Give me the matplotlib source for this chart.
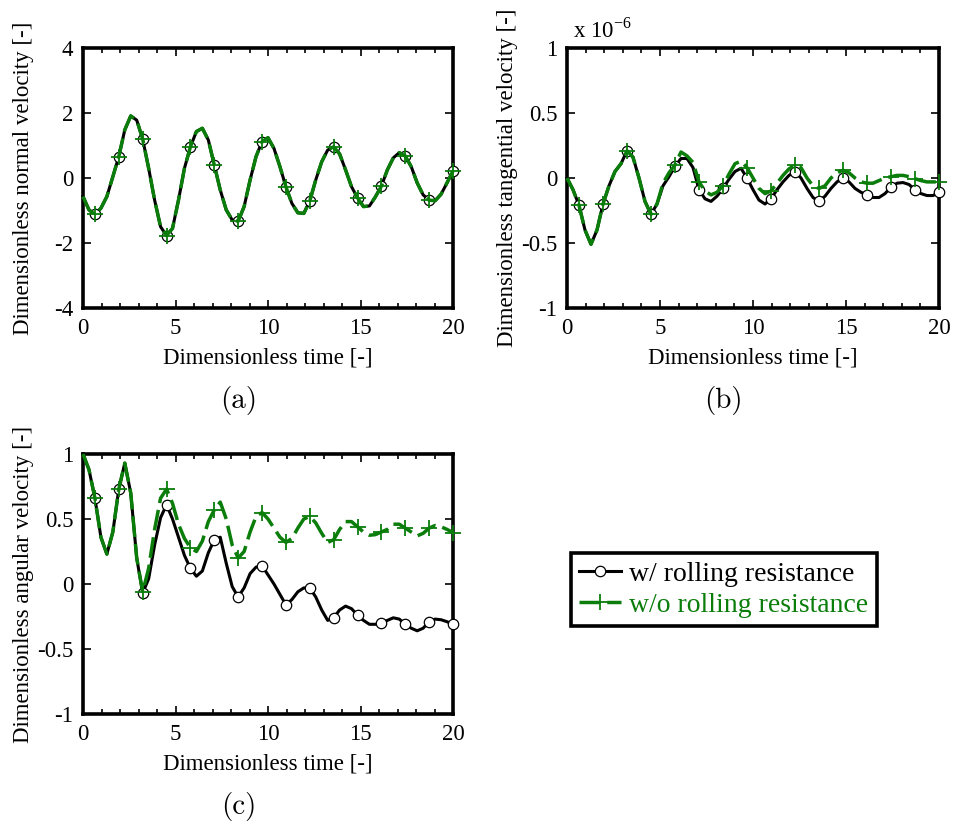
import numpy as np
import matplotlib
matplotlib.use('Agg')
import matplotlib.pyplot as plt
from matplotlib.ticker import MultipleLocator, FuncFormatter
from matplotlib.lines import Line2D

plt.rcParams['font.family'] = ['Liberation Serif', 'DejaVu Serif']
plt.rcParams['axes.unicode_minus'] = False
plt.rcParams['mathtext.fontset'] = 'custom'
plt.rcParams['mathtext.rm'] = 'Liberation Serif'

# sample times (63 samples over 0..20), markers every 4th sample from index 2
time = np.linspace(0, 20, 63)

# (a) normal velocity, both cases coincide
normal_vel = [-0.57, -0.98, -1.12, -0.93, -0.57, 0.04, 0.66, 1.48, 1.91, 1.78,
              1.20, 0.30, -0.68, -1.50, -1.77, -1.55, -0.68, 0.30, 0.96, 1.43,
              1.53, 1.17, 0.40, -0.37, -0.98, -1.29, -1.33, -0.88, -0.06, 0.66,
              1.12, 1.24, 0.91, 0.35, -0.27, -0.78, -1.07, -1.09, -0.71, -0.06,
              0.50, 0.86, 0.96, 0.74, 0.25, -0.27, -0.61, -0.88, -0.86, -0.58,
              -0.25, 0.25, 0.62, 0.78, 0.68, 0.35, -0.15, -0.52, -0.68, -0.70,
              -0.50, -0.15, 0.22]

# (b) tangential velocity, in units of 1e-6
tang_with = [0.0, -0.09, -0.21, -0.40, -0.51, -0.40, -0.20, -0.06, 0.05, 0.11,
             0.21, 0.16, 0.0, -0.18, -0.28, -0.20, -0.06, 0.01, 0.09, 0.15,
             0.15, 0.08, -0.09, -0.16, -0.18, -0.14, -0.08, -0.01, 0.05, 0.075,
             0.0, -0.09, -0.17, -0.20, -0.16, -0.09, -0.03, 0.02, 0.05, 0.0,
             -0.08, -0.15, -0.18, -0.14, -0.08, -0.03, 0.0, -0.03, -0.08, -0.11,
             -0.13, -0.15, -0.15, -0.12, -0.07, -0.04, -0.035, -0.05, -0.09, -0.12,
             -0.135, -0.135, -0.11]
tang_without = [0.0, -0.09, -0.21, -0.40, -0.51, -0.40, -0.20, -0.06, 0.05, 0.11,
                0.21, 0.16, 0.0, -0.18, -0.28, -0.20, -0.04, 0.04, 0.10, 0.20,
                0.17, 0.12, -0.03, -0.10, -0.13, -0.11, -0.06, 0.03, 0.11, 0.13,
                0.08, 0.0, -0.08, -0.12, -0.10, -0.04, 0.02, 0.07, 0.10, 0.08,
                0.0, -0.06, -0.08, -0.06, 0.0, 0.04, 0.06, 0.04, 0.0, -0.03,
                -0.04, -0.04, -0.02, 0.0, 0.01, 0.02, 0.02, 0.01, -0.005, -0.02,
                -0.03, -0.03, -0.03]

# (c) angular velocity
ang_with = [1.0, 0.88, 0.66, 0.36, 0.23, 0.40, 0.73, 0.93, 0.70, 0.20,
            -0.07, 0.04, 0.30, 0.51, 0.61, 0.50, 0.36, 0.22, 0.12, 0.06,
            0.10, 0.24, 0.34, 0.36, 0.16, -0.02, -0.10, -0.03, 0.08, 0.13,
            0.14, 0.07, 0.0, -0.08, -0.16, -0.12, -0.06, -0.03, -0.03, -0.10,
            -0.20, -0.28, -0.26, -0.20, -0.17, -0.19, -0.24, -0.28, -0.31, -0.31,
            -0.30, -0.28, -0.26, -0.27, -0.31, -0.34, -0.36, -0.34, -0.29, -0.27,
            -0.275, -0.29, -0.31]
ang_without = [1.0, 0.88, 0.66, 0.36, 0.23, 0.40, 0.73, 0.93, 0.70, 0.20,
               -0.06, 0.12, 0.42, 0.66, 0.73, 0.62, 0.46, 0.35, 0.28, 0.25,
               0.33, 0.48, 0.57, 0.63, 0.50, 0.30, 0.20, 0.25, 0.40, 0.52,
               0.55, 0.50, 0.43, 0.36, 0.32, 0.35, 0.43, 0.50, 0.52, 0.47,
               0.39, 0.32, 0.34, 0.42, 0.48, 0.48, 0.44, 0.40, 0.375, 0.38,
               0.40, 0.42, 0.46, 0.46, 0.43, 0.40, 0.37, 0.39, 0.43, 0.45,
               0.44, 0.42, 0.395]

labels = ['w/ rolling resistance', 'w/o rolling resistance']
green = '#0a7d0a'
fs = 16.5

W, H = 956, 830
fig = plt.figure(figsize=(W / 100, H / 100), dpi=100)
ax_a = fig.add_axes([83 / W, 1 - 308 / H, 370 / W, 260 / H])
ax_b = fig.add_axes([567 / W, 1 - 308 / H, 372 / W, 260 / H])
ax_c = fig.add_axes([83 / W, 1 - 714 / H, 370 / W, 260 / H])

black_kw = dict(color='black', lw=2.2, marker='o', ms=7.5, mfc='white', mec='black',
                mew=0.9, markevery=(2, 4), clip_on=False, zorder=3)
green_kw = dict(color=green, lw=2.5, dashes=(6, 2), marker='+', ms=11, mew=1.3,
                markevery=(2, 4), clip_on=False, zorder=4)


def style(ax, ylim, ystep, ylabel, tag):
    ax.set_xlim(0, 20)
    ax.set_ylim(*ylim)
    ax.xaxis.set_major_locator(MultipleLocator(5))
    ax.xaxis.set_minor_locator(MultipleLocator(1))
    ax.yaxis.set_major_locator(MultipleLocator(ystep))
    ax.yaxis.set_major_formatter(FuncFormatter(lambda v, p: '%g' % v))
    ax.tick_params(which='both', direction='in', top=True, right=True,
                   labelsize=fs, width=1.2)
    ax.tick_params(which='major', length=6, pad=7)
    ax.tick_params(which='minor', length=3.5)
    for sp in ax.spines.values():
        sp.set_linewidth(2.6)
    ax.set_xlabel('Dimensionless time [-]', fontsize=fs)
    ax.xaxis.set_label_coords(0.5, -50 / 260)
    ax.xaxis.label.set_va('center')
    ax.set_ylabel(ylabel, fontsize=fs, va='center')
    ax.yaxis.set_label_coords(-59 / ax.bbox.width, 0.5)
    ax.text(0.42, -92 / 260, tag, transform=ax.transAxes, fontsize=21,
            family='cmr10', ha='center', va='center')


ax_a.plot(time, normal_vel, **black_kw)
ax_a.plot(time, normal_vel, **green_kw)
style(ax_a, (-4, 4), 2, 'Dimensionless normal velocity [-]', '(a)')

ax_b.plot(time, tang_with, **black_kw)
ax_b.plot(time, tang_without, **green_kw)
style(ax_b, (-1, 1), 0.5, 'Dimensionless tangential velocity [-]', '(b)')
fig.text(573 / W, 1 - 37 / H, r'x 10$^{\mathregular{-6}}$', fontsize=fs, va='baseline')

ax_c.plot(time, ang_with, **black_kw)
ax_c.plot(time, ang_without, **green_kw)
style(ax_c, (-1, 1), 0.5, 'Dimensionless angular velocity [-]', '(c)')

handles = [Line2D([], [], color='black', lw=2.2, marker='o', ms=7.5, mfc='white',
                  mec='black', mew=0.9),
           Line2D([], [], color=green, lw=2.5, dashes=(6, 2), marker='+',
                  ms=11, mew=1.3)]
leg = fig.legend(handles, labels, loc='center', bbox_to_anchor=(724 / W, 1 - 589.5 / H),
                 fontsize=20, frameon=True, fancybox=False, framealpha=1,
                 edgecolor='black', handlelength=1.5, handletextpad=0.3,
                 borderpad=0.3, labelspacing=0.2, borderaxespad=0,
                 labelcolor=['black', green])
leg.get_frame().set_linewidth(2.6)

fig.savefig('out.png', dpi=100)
